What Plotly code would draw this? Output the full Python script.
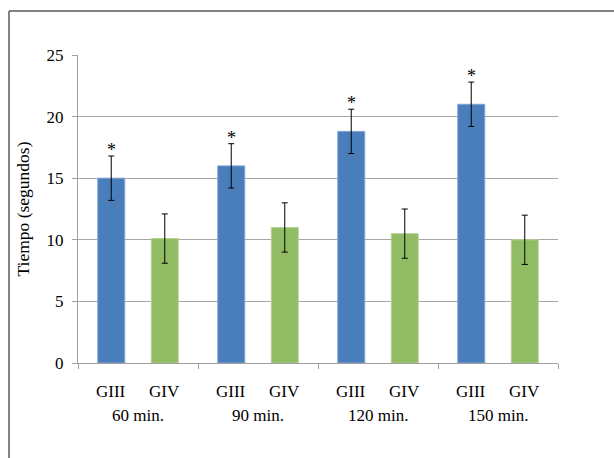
import plotly.graph_objects as go

groups = ["60 min.", "90 min.", "120 min.", "150 min."]
series_names = ["GIII", "GIV"]
giii_mean = [15.0, 16.0, 18.8, 21.0]
giii_err = [1.8, 1.8, 1.8, 1.8]
giv_mean = [10.1, 11.0, 10.5, 10.0]
giv_err = [2.0, 2.0, 2.0, 2.0]
signif = [True, True, True, True]
y_ticks = [0, 5, 10, 15, 20, 25]

FONT = "Liberation Serif, Times New Roman, serif"
FS = 17
off = 0.223
x_giii = [i + 0.5 - off for i in range(len(groups))]
x_giv = [i + 0.5 + off for i in range(len(groups))]

fig = go.Figure()
fig.add_trace(go.Bar(
    x=x_giii, y=giii_mean, width=0.225, name="GIII",
    marker=dict(color="#4A7EBB", line=dict(color="#7FA3D3", width=1)),
    error_y=dict(type="data", array=giii_err, color="black", thickness=1, width=3),
))
fig.add_trace(go.Bar(
    x=x_giv, y=giv_mean, width=0.225, name="GIV",
    marker=dict(color="#92BC64", line=dict(color="#B5D395", width=1)),
    error_y=dict(type="data", array=giv_err, color="black", thickness=1, width=3),
))

annotations = []
for i, g in enumerate(groups):
    annotations.append(dict(x=x_giii[i], y=0, xref="x", yref="y", text=series_names[0],
                            showarrow=False, yanchor="middle", yshift=-28,
                            font=dict(family=FONT, size=FS, color="black")))
    annotations.append(dict(x=x_giv[i], y=0, xref="x", yref="y", text=series_names[1],
                            showarrow=False, yanchor="middle", yshift=-28,
                            font=dict(family=FONT, size=FS, color="black")))
    annotations.append(dict(x=i + 0.5, y=0, xref="x", yref="y", text=g,
                            showarrow=False, yanchor="middle", yshift=-52,
                            font=dict(family=FONT, size=FS, color="black")))
    if signif[i]:
        annotations.append(dict(x=x_giii[i], y=giii_mean[i] + giii_err[i], xref="x", yref="y",
                                text="*", showarrow=False, yanchor="bottom", yshift=-6,
                                font=dict(family=FONT, size=18, color="black")))

W, H = 614, 458
L, R, T, B = 78, 56, 55, 95
pw, ph = W - L - R, H - T - B

fx0 = (9 - L) / pw
fx1 = (W + 20 - L) / pw
fy_top = (T + ph - 11) / ph
fy_bot = -(H + 20 - (T + ph)) / ph
frame = dict(color="#5a5a5a", width=1.5)

fig.update_layout(
    width=W, height=H,
    margin=dict(l=L, r=R, t=T, b=B),
    paper_bgcolor="white", plot_bgcolor="white",
    showlegend=False, barmode="overlay",
    font=dict(family=FONT, size=FS, color="black"),
    annotations=annotations,
    shapes=[
        dict(type="line", xref="paper", yref="paper", x0=fx0, x1=fx1, y0=fy_top, y1=fy_top,
             line=frame, layer="below"),
        dict(type="line", xref="paper", yref="paper", x0=fx0, x1=fx0, y0=fy_bot, y1=fy_top,
             line=frame, layer="below"),
    ],
    xaxis=dict(range=[0, 4], tickvals=[0, 1, 2, 3, 4], ticktext=["", "", "", "", ""],
               ticks="outside", ticklen=5, tickcolor="#a0a0a0", showgrid=False,
               showline=True, linecolor="#a0a0a0", linewidth=1, zeroline=False, fixedrange=True),
    yaxis=dict(range=[0, 25], tickvals=y_ticks, ticks="outside", ticklen=5, tickcolor="#a0a0a0",
               ticklabelstandoff=5,
               showgrid=True, gridcolor="#a6a6a6", gridwidth=1, showline=True, linecolor="#a0a0a0",
               zeroline=False, tickfont=dict(family=FONT, size=FS, color="black"),
               title=dict(text="Tiempo (segundos)", font=dict(family=FONT, size=17.5, color="black"),
                          standoff=12)),
)

fig.write_html("out.html",
               config={"displayModeBar": False},
               post_script="document.body.style.margin='0';document.body.style.overflow='hidden';")
